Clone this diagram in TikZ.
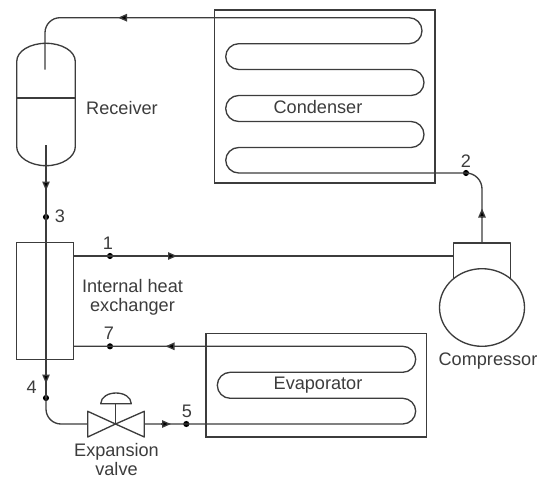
\documentclass[tikz,border=0pt]{standalone}
\usepackage{fontspec}
\setmainfont{Liberation Sans}
\usetikzlibrary{arrows.meta,shapes.geometric}
\definecolor{ink}{HTML}{3C3C3C}
\tikzset{
  pipe/.style={draw=ink,line width=1pt,line join=round},
  thin box/.style={draw=ink,line width=1pt,fill=none,inner sep=0pt,outer sep=0pt,minimum width=#1},
  dotpt/.style={circle,fill=black,inner sep=0pt,outer sep=0pt,minimum size=4.6pt},
  lab/.style={text=ink,font=\fontsize{13.6}{15}\selectfont,inner sep=0pt,align=center},
  flow/.style={draw=ink,line width=1pt,-{Triangle[length=6.75pt,width=5.6pt,fill=black]}}
}
\begin{document}
\begin{tikzpicture}[x=0.75pt,y=-0.75pt]
\useasboundingbox (0,0) rectangle (545,478);
% equipment boxes
\node[thin box=165.5pt,minimum height=129.75pt] (cond) at (324.65,96.5) {};
\node[thin box=165.2pt,minimum height=77.5pt] (evap) at (316.15,385.35) {};
\node[thin box=42.5pt,minimum height=87.5pt] (ihx) at (45,301) {};
% receiver
\coordinate (rT) at (46,43.3);
\draw[pipe] (16.7,98) -- (16.7,61.7) .. controls (16.7,51) and (30,43.3) .. (rT)
  .. controls (62,43.3) and (75.3,51) .. (75.3,61.7) -- (75.3,146.7)
  .. controls (75.3,157) and (62,165.7) .. (46,165.7)
  .. controls (30,165.7) and (16.7,157) .. (16.7,146.7) -- cycle;
\coordinate (rL) at (16.7,98);
\coordinate (rR) at (75.3,98);
\draw[pipe] (rL) -- (rR);
% compressor
\coordinate (cL) at (453.7,280);
\coordinate (cR) at (510.3,280);
\coordinate (cTL) at (453.7,243);
\coordinate (cTR) at (510.3,243);
\draw[pipe] (cL) -- (cTL) -- (cTR) -- (cR);
\node[ellipse,draw=ink,line width=1pt,fill=white,inner sep=0pt,outer sep=0pt,minimum width=63.75pt,minimum height=58.2pt] (comp) at (482,307.5) {};
% state points
\node[dotpt] (p1) at (110,256) {};
\node[dotpt] (p2) at (466,173) {};
\node[dotpt] (p3) at (46,217) {};
\node[dotpt] (p4) at (46,398) {};
\node[dotpt] (p5) at (186.3,424) {};
\node[dotpt] (p7) at (110,346.3) {};
% condenser coil and receiver inlet
\coordinate (rIn) at (45,69.7);
\draw[pipe] (p2.center) [rounded corners=9.75pt]
  -- (225.7,173) -- (225.7,147.5) -- (424,147.5) -- (424,121.5) -- (225.7,121.5)
  -- (225.7,95.5) -- (424,95.5) -- (424,69.5) -- (225.7,69.5) -- (225.7,43.7)
  -- (422,43.7) -- (422,17.7) [rounded corners=11.25pt] -- (45,17.7) [sharp corners] -- (rIn);
\draw[pipe,rounded corners=12pt] (p2.center) -- (482,173) -- (482,243);
% receiver outlet through the heat exchanger to the valve
\coordinate (rOut) at (46,145);
\coordinate (vL) at (87.7,424);
\coordinate (vR) at (144.3,424);
\coordinate (vC) at (115.5,424);
\draw[pipe] (rOut) -- (p3.center) -- (p4.center);
\draw[pipe,rounded corners=11.25pt] (p4.center) -- (46,424) -- (vL);
% internal heat exchanger lines
\coordinate (ihxA) at (73.3,256);
\coordinate (ihxB) at (73.3,346.3);
\draw[pipe] (ihxA) -- (p1.center) -- (cTL |- p1);
% evaporator coil
\draw[pipe] (vR) -- (p5.center) [rounded corners=9.75pt]
  -- (415.7,424) -- (415.7,398.3) -- (217.3,398.3) -- (217.3,372.3) -- (415.7,372.3)
  -- (415.7,346.3) [sharp corners] -- (p7.center) -- (ihxB);
% valve
\coordinate (vLt) at (87.7,411.3);
\coordinate (vLb) at (87.7,437);
\coordinate (vRt) at (144.3,411.3);
\coordinate (vRb) at (144.3,437);
\coordinate (vS) at (115.5,403.7);
\draw[pipe] (vC) -- (vLt) -- (vLb) -- cycle;
\draw[pipe] (vC) -- (vRt) -- (vRb) -- cycle;
\draw[pipe] (vC) -- (vS);
\draw[pipe] (100.7,403.7) .. controls (101,397) and (108,393) .. (116,393)
  .. controls (124,393) and (131,397) .. (131.3,403.7) -- cycle;
% arrowheads
\coordinate (a1s) at (127.3,17.7); \coordinate (a1e) at (118,17.7);
\coordinate (a2s) at (46,181); \coordinate (a2e) at (46,190.5);
\coordinate (a3s) at (482,217); \coordinate (a3e) at (482,208.5);
\coordinate (a4s) at (167,256); \coordinate (a4e) at (177,256);
\coordinate (a5s) at (176,346.3); \coordinate (a5e) at (165.5,346.3);
\coordinate (a6s) at (161,424); \coordinate (a6e) at (171,424);
\coordinate (a7s) at (46,374); \coordinate (a7e) at (46,383.5);
\foreach \s/\e in {a1s/a1e,a2s/a2e,a3s/a3e,a4s/a4e,a5s/a5e,a6s/a6e,a7s/a7e}
  \draw[flow] (\s) -- (\e);
% labels
\node[lab] (tRec) at (122,108) {Receiver};
\node[lab] (tCon) at (318,107.5) {Condenser};
\node[lab] (tEva) at (318,384.7) {Evaporator};
\node[lab] (tCom) at (488,361) {Compressor};
\node[lab] (tIhx) at (132.5,297) {Internal heat\\[-0.5pt]exchanger};
\node[lab] (tExp) at (116.5,459.5) {Expansion\\[-0.5pt]valve};
\node[lab] (n1) at (108,243) {1};
\node[lab] (n2) at (466,161) {2};
\node[lab] (n3) at (60,216) {3};
\node[lab] (n4) at (31.7,387) {4};
\node[lab] (n5) at (187,411) {5};
\node[lab] (n7) at (109,333) {7};
\end{tikzpicture}
\end{document}
